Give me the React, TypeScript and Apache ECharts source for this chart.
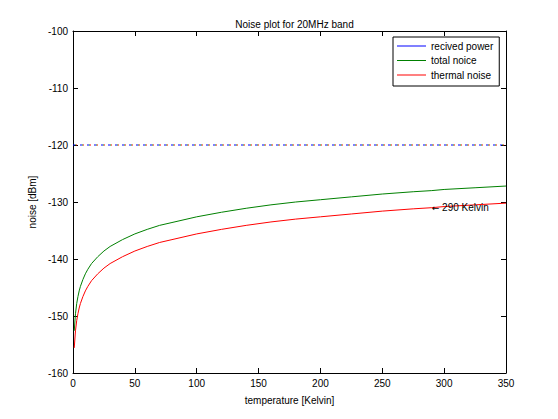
import React, { useEffect, useRef } from "react";
import * as echarts from "echarts";

const temperatures = [1, 2, 3, 4, 5, 6, 8, 10, 12, 15, 20, 25, 30, 40, 50, 60, 70, 80, 100, 120, 140, 160, 180, 200, 225, 250, 275, 290, 300, 325, 350];
const thermalNoise = [-155.6, -152.6, -150.8, -149.6, -148.6, -147.8, -146.6, -145.6, -144.8, -143.8, -142.6, -141.6, -140.8, -139.6, -138.6, -137.8, -137.1, -136.6, -135.6, -134.8, -134.1, -133.5, -133.0, -132.6, -132.1, -131.6, -131.2, -131.0, -130.8, -130.5, -130.2];
const totalNoise = [-152.6, -149.6, -147.8, -146.6, -145.6, -144.8, -143.6, -142.6, -141.8, -140.8, -139.6, -138.6, -137.8, -136.6, -135.6, -134.8, -134.1, -133.6, -132.6, -131.8, -131.1, -130.5, -130.0, -129.6, -129.1, -128.6, -128.2, -128.0, -127.8, -127.5, -127.2];
const receivedT = [0, 350];
const receivedPower = [-120, -120];
const xTicks = { min: 0, max: 350, interval: 50 };
const yTicks = { min: -160, max: -100, interval: 10 };
const annotationT = 290;
const annotationValue = -131.0;
const annotationArrow = "\u2190";
const annotationText = " 290 Kelvin";
const seriesNames = ["recived power", "total noice", "thermal noise"];

const FONT = "'Liberation Sans', Arial, sans-serif";

export default function App() {
  const ref = useRef<HTMLDivElement>(null);
  useEffect(() => {
    document.body.style.margin = "0";
    const chart = echarts.init(ref.current!, null, { renderer: "svg" });
    const zip = (xs: number[], ys: number[]) => xs.map((x, i) => [x, ys[i]]);
    const axisCommon = {
      axisLine: { show: true, onZero: false, lineStyle: { color: "#000", width: 1 } },
      axisTick: { show: true, inside: true, length: 5, lineStyle: { color: "#000" } },
      splitLine: { show: false },
    };
    const labelStyle = { color: "#000", fontSize: 10, fontFamily: FONT };
    const dashSeries = (name: string, color: string, dash: number[], offset: number) => ({
      name,
      type: "line",
      data: zip(receivedT, receivedPower),
      symbol: "none",
      itemStyle: { color },
      lineStyle: { color, width: 1, type: dash, dashOffset: offset },
      z: 3,
    });
    chart.setOption({
      animation: false,
      backgroundColor: "#fff",
      title: {
        text: "Noise plot for 20MHz band",
        left: 289.5,
        top: 14,
        textAlign: "center",
        textStyle: { color: "#000", fontSize: 10, fontWeight: "normal", fontFamily: FONT },
      },
      grid: { left: 73, top: 31, right: 52, bottom: 46, containLabel: false },
      legend: {
        data: seriesNames,
        orient: "vertical",
        left: 393,
        top: 37,
        icon: "rect",
        itemWidth: 29,
        itemHeight: 1,
        itemGap: 2.5,
        padding: [3, 6, 5, 4],
        borderColor: "#000",
        borderWidth: 1,
        backgroundColor: "#fff",
        textStyle: { color: "#000", fontSize: 10, fontFamily: FONT, lineHeight: 12 },
      },
      xAxis: [
        {
          type: "value",
          ...xTicks,
          position: "bottom",
          ...axisCommon,
          axisLabel: { ...labelStyle, margin: 5 },
          name: "temperature [Kelvin]",
          nameLocation: "middle",
          nameGap: 22,
          nameTextStyle: labelStyle,
        },
        {
          type: "value",
          ...xTicks,
          position: "top",
          ...axisCommon,
          axisLabel: { show: false },
        },
      ],
      yAxis: [
        {
          type: "value",
          ...yTicks,
          position: "left",
          ...axisCommon,
          axisLabel: { ...labelStyle, margin: 5 },
          name: "noise [dBm]",
          nameLocation: "middle",
          nameGap: 30,
          nameTextStyle: labelStyle,
        },
        {
          type: "value",
          ...yTicks,
          position: "right",
          ...axisCommon,
          axisLabel: { show: false },
        },
      ],
      series: [
        dashSeries(seriesNames[0], "#0000ff", [2, 5], 0),
        dashSeries("_rp2", "#008000", [1, 6], -2),
        dashSeries("_rp3", "#ff0000", [1, 6], -3),
        {
          name: seriesNames[1],
          type: "line",
          data: zip(temperatures, totalNoise),
          symbol: "none",
          itemStyle: { color: "#008000" },
          lineStyle: { color: "#008000", width: 1 },
        },
        {
          name: seriesNames[2],
          type: "line",
          data: zip(temperatures, thermalNoise),
          symbol: "none",
          itemStyle: { color: "#ff0000" },
          lineStyle: { color: "#ff0000", width: 1 },
          markPoint: {
            symbol: "circle",
            symbolSize: 0,
            data: [{ coord: [annotationT, annotationValue] }],
            label: {
              show: true,
              position: "right",
              distance: 0,
              formatter: "{a|" + annotationArrow + "}" + annotationText,
              color: "#000",
              fontSize: 10,
              fontFamily: FONT,
              rich: { a: { fontFamily: "'DejaVu Sans', sans-serif", fontSize: 9, color: "#000" } },
            },
          },
        },
      ],
    });
    return () => chart.dispose();
  }, []);
  return <div ref={ref} style={{ width: 558, height: 419 }} />;
}
